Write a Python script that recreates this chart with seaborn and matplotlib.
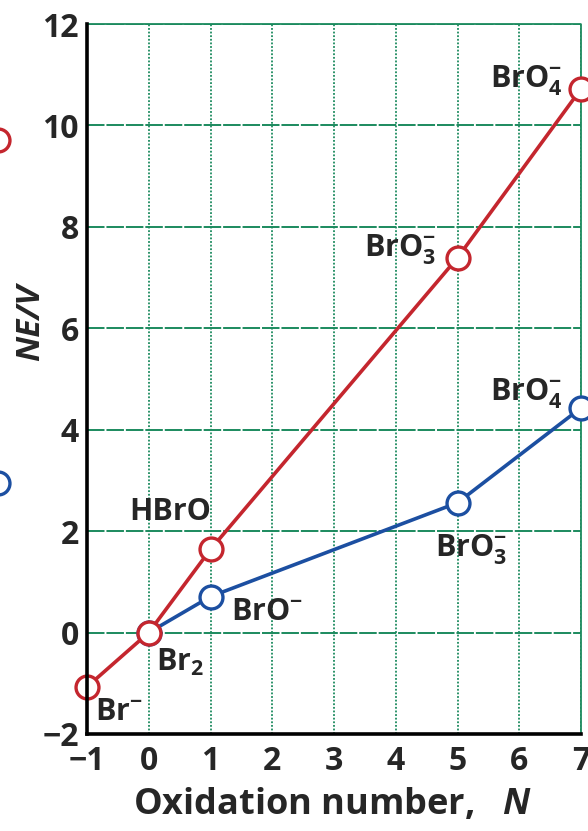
import numpy as np
import pandas as pd
import matplotlib
matplotlib.use("Agg")
import matplotlib.pyplot as plt
import seaborn as sns

# --- data ---
ox_acid = [-1, 0, 1, 5, 7]
ne_acid = [-1.07, 0.0, 1.64, 7.39, 10.72]
lab_acid = [r"Br$^{-}$", r"Br$_2$", "HBrO", r"BrO$_3^{-}$", r"BrO$_4^{-}$"]

ox_base = [0, 1, 5, 7]
ne_base = [0.0, 0.71, 2.56, 4.43]
lab_base = [None, r"BrO$^{-}$", r"BrO$_3^{-}$", r"BrO$_4^{-}$"]

x_ticks = [-1, 0, 1, 2, 3, 4, 5, 6, 7]
y_ticks = [-2, 0, 2, 4, 6, 8, 10, 12]

RED = "#c4262e"
BLUE = "#1c4fa1"
GRID = "#1b8a5e"

sns.set_style("white")
plt.rcParams["font.family"] = ["Open Sans", "DejaVu Sans"]
plt.rcParams["font.weight"] = "bold"
plt.rcParams["mathtext.fontset"] = "custom"
plt.rcParams["mathtext.rm"] = "Open Sans:bold"
plt.rcParams["mathtext.it"] = "Open Sans:bold:italic"
plt.rcParams["mathtext.bf"] = "Open Sans:bold"

fig = plt.figure(figsize=(5.88, 8.31), dpi=100)
ax = fig.add_axes([87 / 588, 1 - 734 / 831, 494 / 588, 710 / 831])

df_acid = pd.DataFrame({"N": ox_acid, "NE": ne_acid})
df_base = pd.DataFrame({"N": ox_base, "NE": ne_base})

mk = dict(marker="o", markersize=16.5, markerfacecolor="white",
          markeredgewidth=2.4, linewidth=2.6, clip_on=False)
sns.lineplot(data=df_base, x="N", y="NE", color=BLUE, markeredgecolor=BLUE,
             zorder=4, ax=ax, **mk)
sns.lineplot(data=df_acid, x="N", y="NE", color=RED, markeredgecolor=RED,
             zorder=5, ax=ax, **mk)

ax.set_xlim(-1, 7)
ax.set_ylim(-2, 12)
ax.set_xticks(x_ticks)
ax.set_yticks(y_ticks)
ax.set_xticklabels(["\u2212" + str(-t) if t < 0 else str(t) for t in x_ticks],
                   fontsize=23, fontweight="bold")
ax.set_yticklabels(["\u2212" + str(-t) if t < 0 else str(t) for t in y_ticks],
                   fontsize=23, fontweight="bold")
ax.tick_params(axis="both", length=0)
ax.tick_params(axis="y", pad=6)
ax.tick_params(axis="x", pad=8)

# grid: horizontal nearly solid, vertical dotted
ax.yaxis.grid(True, color=GRID, linewidth=1.4, linestyle=(0, (9, 1)))
ax.xaxis.grid(True, color=GRID, linewidth=1.3, linestyle=(0, (1, 1)))
ax.set_axisbelow(True)

for s in ["left", "bottom"]:
    ax.spines[s].set_color("black")
    ax.spines[s].set_linewidth(2.6)
    ax.spines[s].set_zorder(6)
for s in ["top", "right"]:
    ax.spines[s].set_color(GRID)
    ax.spines[s].set_linewidth(1.3)
    ax.spines[s].set_linestyle((0, (1, 1)))

# point labels
off_acid = [(32, -25), (31, -30), (-40, 37), (-57, 8), (-55, 8)]
off_base = [None, (57, -15), (14, -47), (-55, 14)]
for x, y, t, o in zip(ox_acid, ne_acid, lab_acid, off_acid):
    ax.annotate(t, (x, y), xytext=o, textcoords="offset pixels",
                ha="center", va="center", fontsize=22, fontweight="bold",
                zorder=7, annotation_clip=False)
for x, y, t, o in zip(ox_base, ne_base, lab_base, off_base):
    if t is None:
        continue
    ax.annotate(t, (x, y), xytext=o, textcoords="offset pixels",
                ha="center", va="center", fontsize=22, fontweight="bold",
                zorder=7, annotation_clip=False)

ax.set_xlabel(r"Oxidation number,   $N$", fontsize=26, fontweight="bold")
ax.xaxis.set_label_coords(0.498, -0.074)
ax.set_ylabel("NE/V", fontsize=24, fontweight="bold", fontstyle="italic")
ax.yaxis.set_label_coords(-0.081, 0.58)

# cut-off markers at the left edge of the crop
for yy, c in [(140, RED), (483, BLUE)]:
    fig.add_artist(plt.Line2D([-2 / 588], [1 - yy / 831], transform=fig.transFigure,
                              marker="o", markersize=16.5, markerfacecolor="white",
                              markeredgecolor=c, markeredgewidth=2.4, linestyle="none"))

fig.savefig("out.png", dpi=100)
